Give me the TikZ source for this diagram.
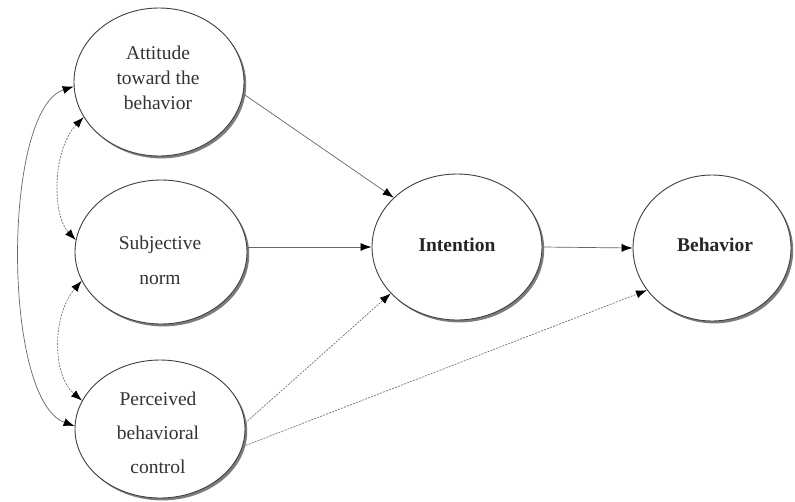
\documentclass[tikz,border=0pt]{standalone}
\usepackage{fontspec}
\setmainfont{Liberation Serif}
\usetikzlibrary{shapes.geometric,arrows.meta,shadows}
\begin{document}
\begin{tikzpicture}[x=1pt,y=-1pt,
  oval/.style={ellipse,draw=black!75,line width=0.9pt,fill=white,inner sep=0pt,
    drop shadow={shadow xshift=2.2pt,shadow yshift=-2.4pt,fill=black!60,opacity=0.85}},
  lbl/.style={font=\fontsize{19.5}{25}\selectfont,text=black!80,align=center,inner sep=0pt},
  blbl/.style={font=\fontsize{19.5}{25}\selectfont\bfseries,text=black!85,align=center,inner sep=0pt},
  tip/.style={-{Latex[black,length=11pt,width=8pt]}},
  dtip/.style={{Latex[black,length=11pt,width=8pt]}-{Latex[black,length=11pt,width=8pt]}},
  con/.style={draw=black!60,line width=0.7pt},
  dotcon/.style={draw=black!55,line width=0.7pt,dash pattern=on 2pt off 1.2pt}]
\useasboundingbox (0,0) rectangle (795,501);
\fill[white] (0,0) rectangle (795,501);
% ellipses
\node[oval,minimum width=170pt,minimum height=148pt] (att) at (159,82) {};
\node[oval,minimum width=172pt,minimum height=144pt] (sub) at (161,252) {};
\node[oval,minimum width=170pt,minimum height=138pt] (per) at (160,429) {};
\node[oval,minimum width=170pt,minimum height=146pt] (int) at (457,247) {};
\node[oval,minimum width=158pt,minimum height=146pt] (beh) at (712,248) {};
% labels
\node[lbl] (tatt) at (158,78) {Attitude\\toward the\\behavior};
\node[lbl,font=\fontsize{19.5}{35}\selectfont] (tsub) at (160,260) {Subjective\\norm};
\node[lbl,font=\fontsize{19.5}{34}\selectfont] (tper) at (158,433) {Perceived\\behavioral\\control};
\node[blbl] (tint) at (457,245) {Intention};
\node[blbl] (tbeh) at (715,245) {Behavior};
% connectors
\draw[con,tip] (att.-8) -- (int.142);
\draw[con,tip] (sub.east |- int.west) -- (int.west);
\draw[dotcon,tip] (per.4) -- (int.215);
\draw[dotcon,tip] (per.-12) -- (beh.213);
\draw[con,tip] (int.east) -- (beh.west);
% left curved double arrows
\draw[con,dtip] (att.183) .. controls (2,110) and (2,400) .. (per.178);
\draw[dotcon,dtip] (att.205) .. controls (52,150) and (52,215) .. (sub.172);
\draw[dotcon,dtip] (sub.200) .. controls (52,315) and (52,375) .. (per.160);
\end{tikzpicture}
\end{document}
